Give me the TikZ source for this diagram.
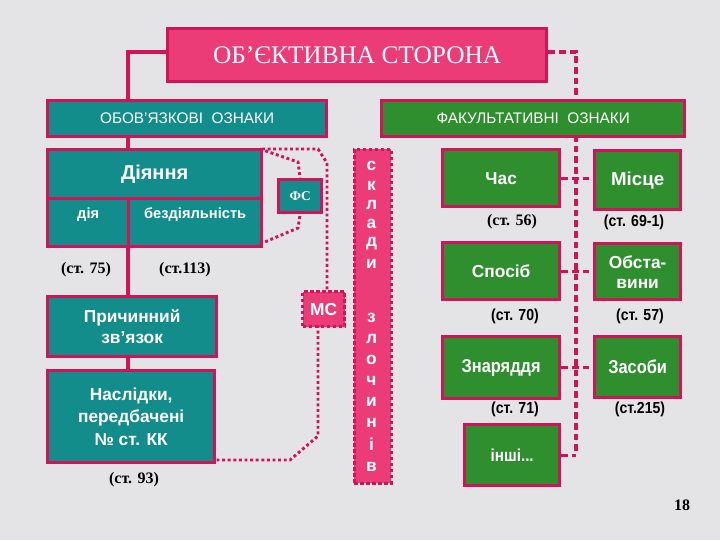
\documentclass[tikz,border=0pt]{standalone}
\usepackage{fontspec}
\setmainfont{Liberation Serif}
\setsansfont{Liberation Sans}
\newfontfamily\narrow[FakeStretch=0.88]{Liberation Sans}
\definecolor{crim}{HTML}{D0145A}
\definecolor{pinkf}{HTML}{EC3C78}
\definecolor{tealf}{HTML}{138C8C}
\definecolor{greenf}{HTML}{2F8F2F}
\definecolor{bg}{HTML}{E4E4E6}
\tikzset{
 bx/.style={draw=crim,line width=2.5pt,text=white,align=center,inner sep=0pt,anchor=north west},
 tbx/.style={bx,fill=tealf,font=\sffamily\bfseries},
 gbx/.style={bx,fill=greenf,font=\sffamily\bfseries},
 lnk/.style={draw=crim,line width=2.5pt},
 dsh/.style={draw=crim,line width=2.5pt,dash pattern=on 5pt off 3pt},
 dot/.style={draw=crim,line width=2.2pt,dotted},
 ref/.style={font=\bfseries\fontsize{12}{14}\selectfont},
 nref/.style={font=\narrow\bfseries\fontsize{12}{14}\selectfont},
 letter/.style={text=white,font=\sffamily\bfseries\fontsize{13}{14}\selectfont}
}
\begin{document}
\begin{tikzpicture}[x=0.75pt,y=-0.75pt]
\fill[bg] (0,0) rectangle (720,540);
\useasboundingbox (0,0) rectangle (720,540);
% title
\node[bx,fill=pinkf,minimum width=379*0.75pt,minimum height=53*0.75pt,font=\fontsize{19}{22}\selectfont] (title) at (166,27) {ОБ’ЄКТИВНА СТОРОНА};
\node[tbx,minimum width=279*0.75pt,minimum height=36*0.75pt,font=\sffamily\fontsize{11.5}{13}\selectfont] (obov) at (46,99) {ОБОВ’ЯЗКОВІ\ \ ОЗНАКИ};
\node[gbx,minimum width=303*0.75pt,minimum height=36*0.75pt,font=\sffamily\fontsize{11.5}{13}\selectfont] (fak) at (380,99) {ФАКУЛЬТАТИВНІ\ \ ОЗНАКИ};
\coordinate (tl) at (128,52); \coordinate (tr) at (576,52);
\draw[lnk] (title.west |- tl) -- (tl) -- (128,99);
\draw[dsh] (title.east |- tr) -- (tr) -- (576,99);
% left column
\node[tbx,minimum width=214*0.75pt,minimum height=49*0.75pt,font=\sffamily\bfseries\fontsize{15}{17}\selectfont] (dii) at (46,148) {Діяння};
\node[tbx,minimum width=81*0.75pt,minimum height=48*0.75pt,font=\sffamily\bfseries\fontsize{11}{13}\selectfont,text depth=14pt] (diia) at (46,197) {дія};
\node[tbx,minimum width=133*0.75pt,minimum height=48*0.75pt,font=\sffamily\bfseries\fontsize{11}{13}\selectfont,text depth=14pt] (bez) at (127,197) {бездіяльність};
\draw[lnk] (128,135) -- (128,148);
\node[tbx,minimum width=169*0.75pt,minimum height=60*0.75pt,font=\sffamily\bfseries\fontsize{13}{16}\selectfont] (prych) at (46,295) {Причинний\\зв’язок};
\node[tbx,minimum width=167*0.75pt,minimum height=92*0.75pt,font=\sffamily\bfseries\fontsize{13}{17}\selectfont] (nasl) at (46,369) {Наслідки,\\передбачені\\№ ст. КК};
\draw[lnk] (128,245) -- (128,295);
\draw[lnk] (128,355) -- (128,369);
\node[ref] (r75) at (86,270) {(ст. 75)};
\node[ref] (r113) at (185,270) {(ст.113)};
\node[ref] (r93) at (134,480) {(ст. 93)};
% ФС, МС
\node[tbx,minimum width=43*0.75pt,minimum height=33*0.75pt,font=\bfseries\fontsize{10}{12}\selectfont] (fs) at (277,178) {ФС};
\draw[dot] (260,149) -- (298,162) -- (fs.north);
\draw[dot] (260,244) -- (298,228) -- (fs.south);
\draw[dot] (262,149) -- (318,149) -- (327,163) -- (327,290);
\node[bx,fill=pinkf,dotted,minimum width=42*0.75pt,minimum height=35*0.75pt,font=\sffamily\bfseries\fontsize{13}{15}\selectfont] (ms) at (301,290) {МС};
\draw[dot] (318,325) -- (318,436) -- (290,460) -- (213,460);
% vertical column
\node[bx,fill=pinkf,dotted,line width=2pt,minimum width=37*0.75pt,minimum height=334*0.75pt] (col) at (353,148) {};
\foreach \l/\y in {с/166,к/186,л/205,а/224,д/244,и/264,з/318,л/339,о/360,ч/381,и/402,н/423,і/444,в/467}
  \node[letter] at (371.5,\y) {\l};
% right column
\node[gbx,minimum width=117*0.75pt,minimum height=57*0.75pt,font=\sffamily\bfseries\fontsize{13}{15}\selectfont] (chas) at (441,148) {Час};
\node[gbx,minimum width=86*0.75pt,minimum height=59*0.75pt,font=\sffamily\bfseries\fontsize{14}{16}\selectfont] (mis) at (593,149) {Місце};
\node[gbx,minimum width=117*0.75pt,minimum height=57*0.75pt,font=\sffamily\bfseries\fontsize{13}{15}\selectfont] (spos) at (441,241) {Спосіб};
\node[gbx,minimum width=86*0.75pt,minimum height=56*0.75pt,font=\sffamily\bfseries\fontsize{13}{15}\selectfont] (obst) at (593,242) {Обста-\\вини};
\node[gbx,minimum width=117*0.75pt,minimum height=62*0.75pt,font=\narrow\bfseries\fontsize{14}{16}\selectfont] (znar) at (441,335) {Знаряддя};
\node[gbx,minimum width=86*0.75pt,minimum height=61*0.75pt,font=\narrow\bfseries\fontsize{14}{16}\selectfont] (zas) at (593,335) {Засоби};
\node[gbx,minimum width=95*0.75pt,minimum height=61*0.75pt,font=\narrow\bfseries\fontsize{13}{15}\selectfont] (inshi) at (463,423) {інші...};
\draw[dsh] (576,135) -- (576,453.5);
\draw[dsh] (chas.east) -- (chas.east -| mis.west);
\draw[dsh] (spos.east) -- (spos.east -| obst.west);
\draw[dsh] (znar.east) -- (znar.east -| zas.west);
\draw[dsh] (inshi.east) -- (inshi.east -| 576,0);
\node[ref] (r56) at (512,222) {(ст. 56)};
\node[nref] (r69) at (634,222) {(ст. 69-1)};
\node[nref] (r70) at (515,316) {(ст. 70)};
\node[nref] (r57) at (640,316) {(ст. 57)};
\node[nref] (r71) at (515,409) {(ст. 71)};
\node[nref] (r215) at (640,409) {(ст.215)};
\node[ref] (pg) at (682,505) {18};
\end{tikzpicture}
\end{document}
